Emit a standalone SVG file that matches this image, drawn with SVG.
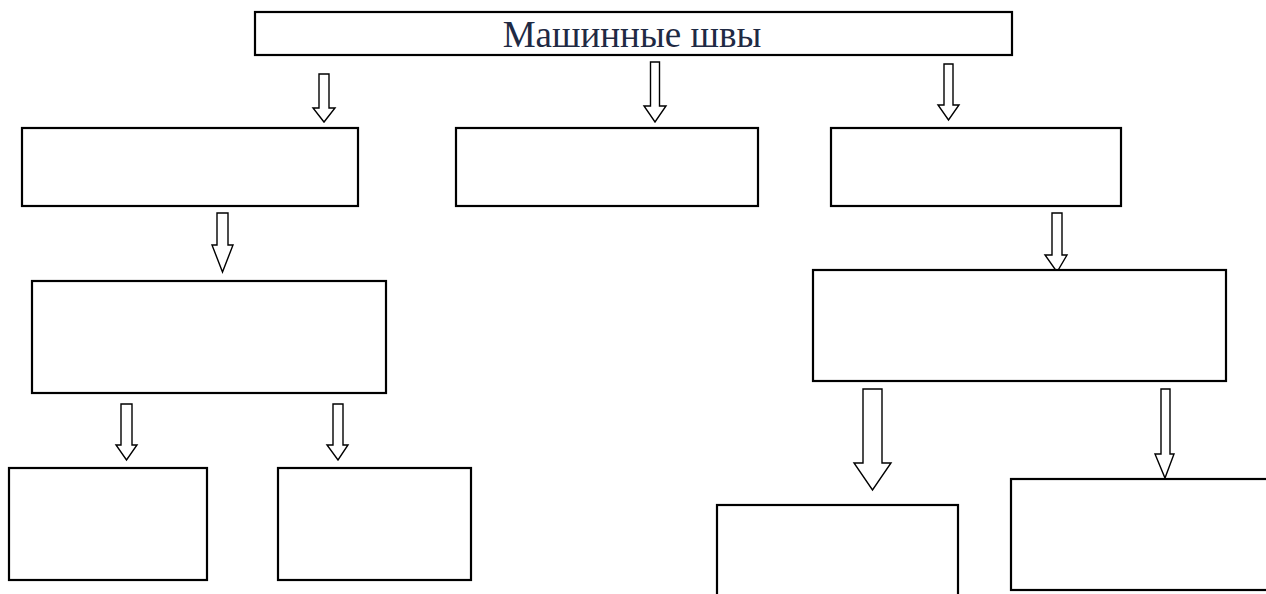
<svg xmlns="http://www.w3.org/2000/svg" width="1266" height="594" viewBox="0 0 1266 594">
<style>
.box{fill:#fff;stroke:#000;stroke-width:2.2}
.arr{fill:#fff;stroke:#000;stroke-width:1.4;stroke-linejoin:miter}
.title{font-family:"Liberation Serif","Times New Roman",serif;font-size:37px;fill:#1f2a44}
</style>
<rect width="1266" height="594" fill="#fff"/>
<g id="connectors">
<path class="arr" d="M319,74 L329,74 L329,108 L335,108 L324,122 L313,108 L319,108 Z"/>
<path class="arr" d="M650.5,62 L659.5,62 L659.5,106 L666,106 L655,122 L644,106 L650.5,106 Z"/>
<path class="arr" d="M944,64 L953,64 L953,105 L959,105 L948.5,120 L938,105 L944,105 Z"/>
<path class="arr" d="M217,213 L228,213 L228,245 L233,245 L222.5,272 L212,245 L217,245 Z"/>
<path class="arr" d="M1052,213 L1062,213 L1062,255 L1067,255 L1057,272 L1045,255 L1052,255 Z"/>
<path class="arr" d="M121,404 L132,404 L132,445 L137,445 L126.5,460 L116,445 L121,445 Z"/>
<path class="arr" d="M333,404 L343,404 L343,445 L348,445 L338,460 L327,445 L333,445 Z"/>
<path class="arr" d="M863,389 L882,389 L882,463 L891,463 L872.5,490 L854,463 L863,463 Z"/>
<path class="arr" d="M1161,389 L1170,389 L1170,454 L1174,454 L1165,478 L1155,454 L1161,454 Z"/>
</g>
<g id="node-top"><rect class="box" x="255" y="12" width="757" height="43"/>
<text class="title" x="632" y="47" text-anchor="middle">Машинные швы</text></g>
<g id="node-b1"><rect class="box" x="22" y="128" width="336" height="78"/></g>
<g id="node-b2"><rect class="box" x="456" y="128" width="302" height="78"/></g>
<g id="node-b3"><rect class="box" x="831" y="128" width="290" height="78"/></g>
<g id="node-b4"><rect class="box" x="32" y="281" width="354" height="112"/></g>
<g id="node-b5"><rect class="box" x="813" y="270" width="413" height="111"/></g>
<g id="node-b6"><rect class="box" x="9" y="468" width="198" height="112"/></g>
<g id="node-b7"><rect class="box" x="278" y="468" width="193" height="112"/></g>
<g id="node-b8"><rect class="box" x="717" y="505" width="241" height="100"/></g>
<g id="node-b9"><rect class="box" x="1011" y="479" width="270" height="111"/></g>
</svg>
